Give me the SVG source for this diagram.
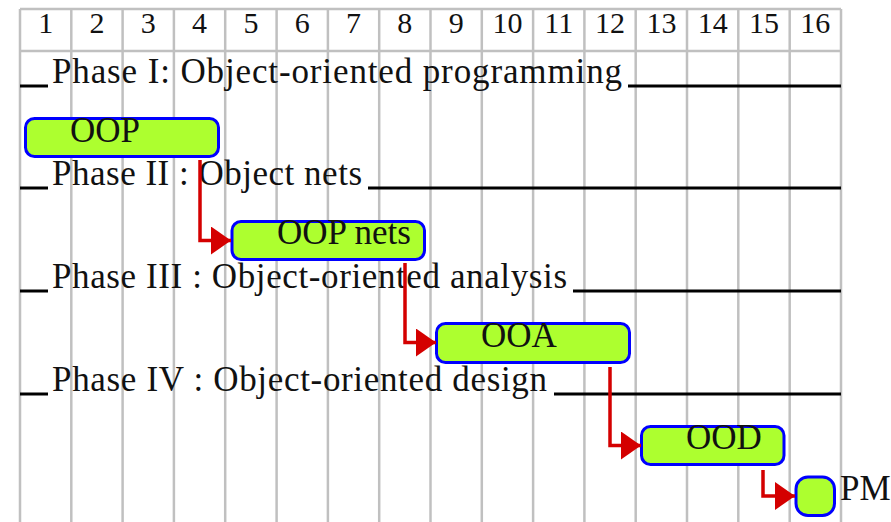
<svg xmlns="http://www.w3.org/2000/svg" width="891" height="522" viewBox="0 0 891 522">
  <style>
    .grid { stroke: #c0c0c0; stroke-width: 2.5; fill: none; }
    .num { font-family: 'Liberation Serif', 'DejaVu Serif', serif; font-size: 30px; fill: #111; text-anchor: middle; }
    .phase { font-family: 'Liberation Serif', 'DejaVu Serif', serif; font-size: 35px; fill: #111; }
    .rule { stroke: #000; stroke-width: 3; }
    .bar { fill: #adff2f; stroke: #0000ff; stroke-width: 3; }
    .lbl { font-family: 'Liberation Serif', 'DejaVu Serif', serif; font-size: 35px; fill: #111; }
    .arrow { stroke: #d40000; stroke-width: 3.5; fill: none; marker-end: url(#ah); }
  </style>
  <defs>
    <marker id="ah" markerUnits="userSpaceOnUse" viewBox="0 0 20 28" markerWidth="20" markerHeight="28" refX="20" refY="14" orient="auto">
      <path d="M0,0 L20,14 L0,28 Z" fill="#d40000"/>
    </marker>
  </defs>
  <rect width="891" height="522" fill="#fff"/>
  <g id="grid">
    <line class="grid" x1="20" y1="9" x2="841" y2="9"/>
    <line class="grid" x1="20" y1="51" x2="841" y2="51"/>
    <line class="grid" x1="20" y1="9" x2="20" y2="522"/>
    <line class="grid" x1="71.3" y1="9" x2="71.3" y2="522"/>
    <line class="grid" x1="122.6" y1="9" x2="122.6" y2="522"/>
    <line class="grid" x1="173.9" y1="9" x2="173.9" y2="522"/>
    <line class="grid" x1="225.2" y1="9" x2="225.2" y2="522"/>
    <line class="grid" x1="276.6" y1="9" x2="276.6" y2="522"/>
    <line class="grid" x1="327.9" y1="9" x2="327.9" y2="522"/>
    <line class="grid" x1="379.2" y1="9" x2="379.2" y2="522"/>
    <line class="grid" x1="430.5" y1="9" x2="430.5" y2="522"/>
    <line class="grid" x1="481.8" y1="9" x2="481.8" y2="522"/>
    <line class="grid" x1="533.1" y1="9" x2="533.1" y2="522"/>
    <line class="grid" x1="584.4" y1="9" x2="584.4" y2="522"/>
    <line class="grid" x1="635.7" y1="9" x2="635.7" y2="522"/>
    <line class="grid" x1="687" y1="9" x2="687" y2="522"/>
    <line class="grid" x1="738.3" y1="9" x2="738.3" y2="522"/>
    <line class="grid" x1="789.7" y1="9" x2="789.7" y2="522"/>
    <line class="grid" x1="841" y1="9" x2="841" y2="522"/>
  </g>
  <g id="header">
    <text class="num" x="45.7" y="33">1</text>
    <text class="num" x="97" y="33">2</text>
    <text class="num" x="148.3" y="33">3</text>
    <text class="num" x="199.6" y="33">4</text>
    <text class="num" x="250.9" y="33">5</text>
    <text class="num" x="302.2" y="33">6</text>
    <text class="num" x="353.5" y="33">7</text>
    <text class="num" x="404.8" y="33">8</text>
    <text class="num" x="456.2" y="33">9</text>
    <text class="num" x="507.5" y="33">10</text>
    <text class="num" x="558.8" y="33">11</text>
    <text class="num" x="610.1" y="33">12</text>
    <text class="num" x="661.4" y="33">13</text>
    <text class="num" x="712.7" y="33">14</text>
    <text class="num" x="764" y="33">15</text>
    <text class="num" x="815.3" y="33">16</text>
  </g>
  <g id="phase1">
    <line class="rule" x1="20" y1="86" x2="48" y2="86"/>
    <text class="phase" x="52" y="83" textLength="570">Phase I: Object-oriented programming</text>
    <line class="rule" x1="628" y1="86" x2="841" y2="86"/>
  </g>
  <g id="phase2">
    <line class="rule" x1="20" y1="188" x2="48" y2="188"/>
    <text class="phase" x="52" y="185" textLength="310">Phase II : Object nets</text>
    <line class="rule" x1="368" y1="188" x2="841" y2="188"/>
  </g>
  <g id="phase3">
    <line class="rule" x1="20" y1="291" x2="48" y2="291"/>
    <text class="phase" x="52" y="288" textLength="515">Phase III : Object-oriented analysis</text>
    <line class="rule" x1="573" y1="291" x2="841" y2="291"/>
  </g>
  <g id="phase4">
    <line class="rule" x1="20" y1="394" x2="48" y2="394"/>
    <text class="phase" x="52" y="391" textLength="495">Phase IV : Object-oriented design</text>
    <line class="rule" x1="554" y1="394" x2="841" y2="394"/>
  </g>
  <g id="oop">
    <rect class="bar" x="25.5" y="118.5" width="193" height="38" rx="9"/>
    <text class="lbl" x="70" y="142">OOP</text>
  </g>
  <g id="oopnets">
    <rect class="bar" x="232" y="221.5" width="192.5" height="38" rx="9"/>
    <text class="lbl" x="277" y="244">OOP nets</text>
  </g>
  <g id="ooa">
    <rect class="bar" x="436.5" y="323.5" width="193" height="39" rx="9"/>
    <text class="lbl" x="481" y="347">OOA</text>
  </g>
  <g id="ood">
    <rect class="bar" x="641.5" y="426.5" width="142.5" height="38" rx="9"/>
    <text class="lbl" x="686" y="449">OOD</text>
  </g>
  <g id="pm">
    <rect class="bar" x="796" y="477" width="38.5" height="38.5" rx="12"/>
    <text class="lbl" x="840" y="500">PM</text>
  </g>
  <g id="connectors">
    <path class="arrow" d="M200,160 V240.5 H231"/>
    <path class="arrow" d="M405,263 V342.5 H436"/>
    <path class="arrow" d="M610,367 V445.5 H641"/>
    <path class="arrow" d="M763,470 V496 H795"/>
  </g>
</svg>
